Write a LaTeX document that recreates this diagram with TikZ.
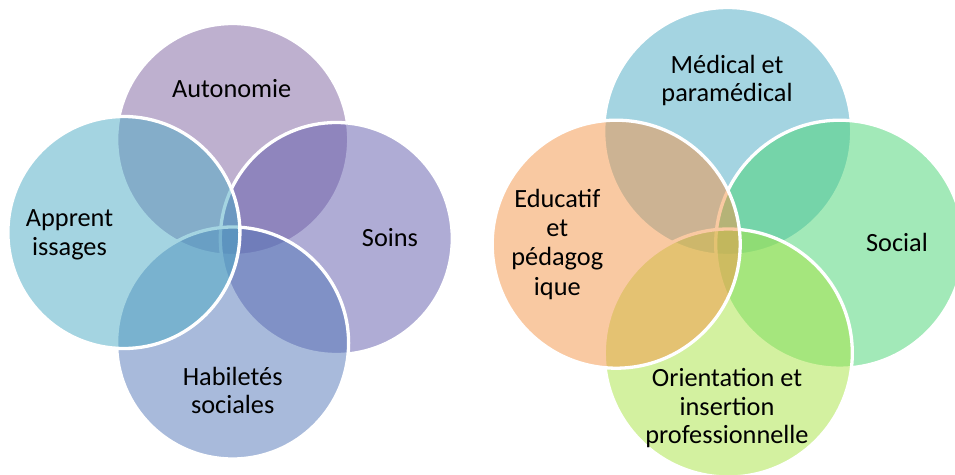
\documentclass[tikz,border=0pt]{standalone}
\usepackage{fontspec}
\setmainfont{Carlito}
\definecolor{cAut}{RGB}{127,99,161}
\definecolor{cApp}{RGB}{75,171,197}
\definecolor{cSoi}{RGB}{97,91,173}
\definecolor{cHab}{RGB}{83,119,185}
\definecolor{cMed}{RGB}{75,171,197}
\definecolor{cEdu}{RGB}{245,148,70}
\definecolor{cSoc}{RGB}{71,213,115}
\definecolor{cOri}{RGB}{169,229,67}
\begin{document}
\begin{tikzpicture}[x=1pt,y=-1pt,
  venn/.style={circle, inner sep=0pt, outer sep=0pt, draw=white, line width=3.3pt, fill opacity=0.5, draw opacity=1},
  smallc/.style={venn, minimum size=232pt},
  bigc/.style={venn, minimum size=248pt},
  lbl/.style={text=black, align=center, anchor=base, inner sep=0pt, font=\fontsize{26.3}{28.4}\selectfont},
  lblwide/.style={lbl, font=\fontsize{26.3}{29.3}\selectfont}]
\path[use as bounding box] (0,0) rectangle (955,474);
\clip (0,0) rectangle (955,474);
\fill[white] (0,0) rectangle (955,474);
% left group (clockwise from top)
\node[smallc, fill=cAut] (aut) at (232.7,139.5) {};
\node[smallc, fill=cSoi] (soi) at (336.3,238.5) {};
\node[smallc, fill=cHab] (hab) at (232.6,343) {};
\node[smallc, fill=cApp] (app) at (123.9,232.5) {};
% right group
\node[bigc, fill=cMed] (med) at (727.7,131.5) {};
\node[bigc, fill=cSoc] (soc) at (839.7,244.2) {};
\node[bigc, fill=cOri] (ori) at (728.3,353) {};
\node[bigc, fill=cEdu] (edu) at (616.2,244.2) {};
% labels (anchor base = baseline of the last line)
\node[lbl] (tAut) at (231.7,97.3) {Autonomie};
\node[lbl] (tApp) at (69.5,255.1) {Apprent\\issages};
\node[lbl] (tSoi) at (390,246.7) {Soins};
\node[lbl] (tHab) at (232.7,413.4) {Habiletés\\sociales};
\node[lbl] (tMed) at (727,101.7) {Médical et\\paramédical};
\node[lblwide] (tEdu) at (557.3,295.2) {Educatif\\et\\pédagog\\ique};
\node[lbl] (tSoc) at (897,251.7) {Social};
\node[lbl] (tOri) at (727,443.5) {Orientation et\\insertion\\professionnelle};
\end{tikzpicture}
\end{document}
